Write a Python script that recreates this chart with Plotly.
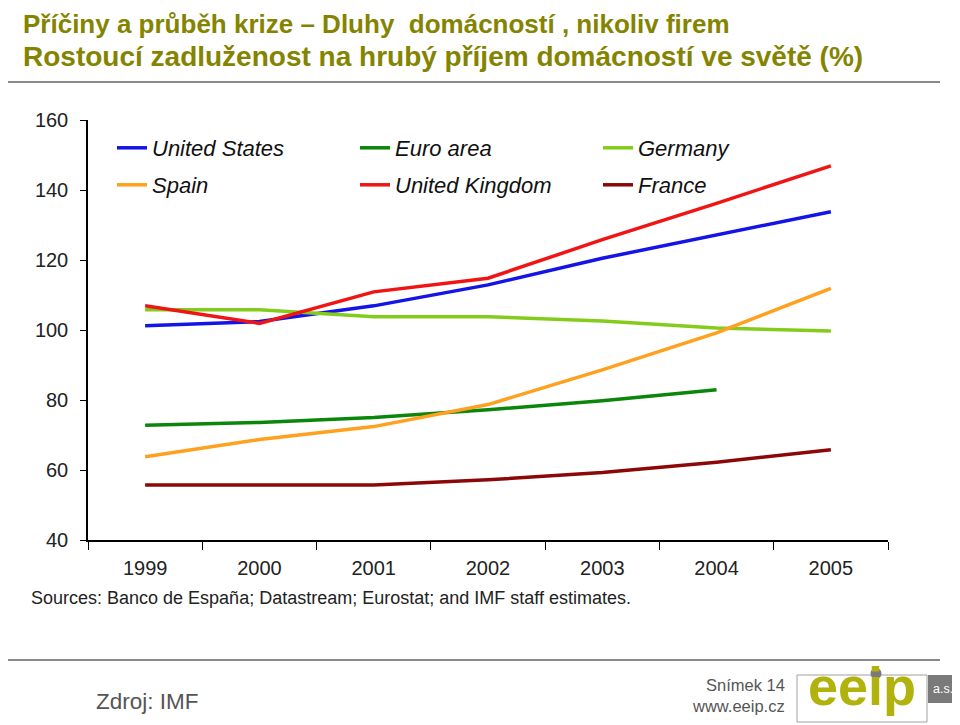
import plotly.graph_objects as go

years = ["1999", "2000", "2001", "2002", "2003", "2004", "2005"]
united_states = [101.2, 102.4, 106.9, 112.9, 120.5, 127.1, 133.8]
euro_area = [72.8, 73.6, 75.0, 77.2, 79.8, 82.9, None]
germany = [105.8, 105.8, 103.8, 103.8, 102.6, 100.6, 99.7]
spain = [63.8, 68.7, 72.4, 78.7, 88.6, 99.2, 111.9]
united_kingdom = [106.9, 101.9, 110.9, 114.8, 125.8, 136.2, 146.9]
france = [55.7, 55.7, 55.7, 57.2, 59.3, 62.2, 65.8]

series = [
    ("United States", united_states, "#1414e6", "legend"),
    ("Euro area", euro_area, "#0a870a", "legend"),
    ("Germany", germany, "#84cc1c", "legend"),
    ("Spain", spain, "#ffa01e", "legend2"),
    ("United Kingdom", united_kingdom, "#f01414", "legend2"),
    ("France", france, "#8c0808", "legend2"),
]

FONT = "Liberation Sans, Arial, sans-serif"
OFF = 8  # page body margin of the browser
W, H = 960 - OFF, 725 - OFF
L, R, T, B = 88 - OFF, 888 - OFF, 120 - OFF, 540 - OFF


def px(x):
    return (x - OFF - L) / (R - L)


def py(y):
    return (B - (y - OFF)) / (B - T)


fig = go.Figure()
for name, vals, col, leg in series:
    fig.add_trace(go.Scatter(
        x=years, y=vals, name=name, mode="lines",
        line=dict(color=col, width=3.5), legend=leg, connectgaps=False,
    ))

legend_common = dict(
    orientation="h", xanchor="left", yanchor="middle",
    font=dict(family=FONT, size=22, color="#111111", style="italic"),
    entrywidth=198, entrywidthmode="pixels", bgcolor="rgba(0,0,0,0)",
    itemclick=False,
)
fig.update_layout(
    width=W, height=H,
    margin=dict(l=L, r=W - R, t=T, b=H - B),
    paper_bgcolor="white", plot_bgcolor="white",
    showlegend=True,
    legend=dict(x=px(112), y=py(148), **legend_common),
    legend2=dict(x=px(112), y=py(185), **legend_common),
    xaxis=dict(
        type="category", range=[-0.5, 6.5], showline=True, linecolor="black",
        linewidth=1.5, ticks="outside", tickson="boundaries", ticklen=8,
        tickcolor="black", showgrid=False, zeroline=False,
        tickfont=dict(family=FONT, size=20, color="#222222"),
        ticklabelstandoff=9,
    ),
    yaxis=dict(
        range=[40, 160], dtick=20, showline=True, linecolor="black",
        linewidth=1.5, ticks="outside", ticklen=6, tickcolor="black",
        showgrid=False, zeroline=False,
        tickfont=dict(family=FONT, size=20, color="#222222"),
        ticklabelstandoff=8,
    ),
)

title_col = "#848400"
annos = [
    dict(text="Příčiny a průběh krize – Dluhy  domácností , nikoliv firem",
         x=px(21), y=py(24), size=26, color=title_col, bold=True),
    dict(text="Rostoucí zadluženost na hrubý příjem domácností ve světě (%)",
         x=px(21), y=py(56), size=28, color=title_col, bold=True),
    dict(text="Sources: Banco de España; Datastream; Eurostat; and IMF staff estimates.",
         x=px(29), y=py(598), size=18, color="#222222", bold=False),
    dict(text="Zdroj: IMF", x=px(94), y=py(701), size=22.5, color="#555555", bold=False),
]
for a in annos:
    txt = f"<b>{a['text']}</b>" if a["bold"] else a["text"]
    fig.add_annotation(
        text=txt, x=a["x"], y=a["y"], xref="paper", yref="paper",
        xanchor="left", yanchor="middle", showarrow=False,
        font=dict(family=FONT, size=a["size"], color=a["color"]),
    )

# right footer texts
for t, yy in [("Snímek 14", 685), ("www.eeip.cz", 706)]:
    fig.add_annotation(
        text=t, x=px(787), y=py(yy), xref="paper", yref="paper",
        xanchor="right", yanchor="middle", showarrow=False,
        font=dict(family=FONT, size=16.5, color="#555555"),
    )

# separator lines
for yy in (82, 660):
    fig.add_shape(type="line", xref="paper", yref="paper",
                  x0=px(OFF), x1=px(940), y0=py(yy), y1=py(yy),
                  line=dict(color="#8a8a8a", width=2))

# logo
fig.add_shape(type="rect", xref="paper", yref="paper",
              x0=px(797), x1=px(927), y0=py(722), y1=py(675),
              line=dict(color="#a0a0a0", width=1), fillcolor="white")
fig.add_shape(type="rect", xref="paper", yref="paper",
              x0=px(928), x1=px(958), y0=py(703), y1=py(675),
              line=dict(width=0), fillcolor="#7a7a7a")
fig.add_annotation(text="a.s.", x=px(943), y=py(689), xref="paper", yref="paper",
                   xanchor="center", yanchor="middle", showarrow=False,
                   font=dict(family=FONT, size=12.5, color="white"))
fig.add_annotation(text="<b>eeip</b>", x=px(862), y=py(686), xref="paper", yref="paper",
                   xanchor="center", yanchor="middle", showarrow=False,
                   font=dict(family=FONT, size=54, color="#b2b20c"))
fig.add_shape(type="circle", xref="paper", yref="paper",
              x0=px(870.5), x1=px(881.5), y0=py(679), y1=py(668),
              line=dict(width=0), fillcolor="#7a7a7a")

fig.write_html("out.html")
